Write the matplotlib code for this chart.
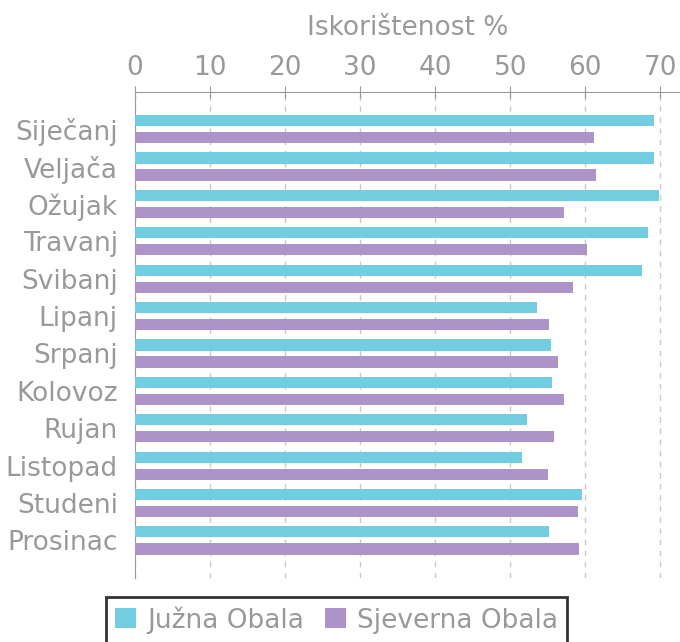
import matplotlib.pyplot as plt
import numpy as np

# data
months = ['Siječanj', 'Veljača', 'Ožujak', 'Travanj', 'Svibanj', 'Lipanj',
          'Srpanj', 'Kolovoz', 'Rujan', 'Listopad', 'Studeni', 'Prosinac']
juzna = [69.1, 69.2, 69.8, 68.4, 67.5, 53.5, 55.4, 55.6, 52.2, 51.6, 59.6, 55.1]
sjeverna = [61.2, 61.4, 57.1, 60.2, 58.3, 55.2, 56.3, 57.2, 55.8, 55.0, 59.0, 59.1]

gray = '#999999'

fig = plt.figure(figsize=(6.8, 6.42), dpi=100)
ax = fig.add_axes([0.198, 0.1, 0.802, 0.757])

y = np.arange(len(months))
ax.barh(y - 0.228, juzna, height=0.3, color='#72cde0', label='Južna Obala', zorder=3)
ax.barh(y + 0.228, sjeverna, height=0.3, color='#ac94c8', label='Sjeverna Obala', zorder=3)

ax.set_xlim(0, 72.6)
ax.set_ylim(12.0, -1.0)
ax.set_yticks(y)
ax.set_yticklabels(months)
ax.set_xticks(range(0, 80, 10))

ax.xaxis.tick_top()
ax.xaxis.set_label_position('top')
ax.set_xlabel('Iskorištenost %', color=gray, fontsize=19, labelpad=14)

ax.tick_params(axis='x', colors=gray, labelsize=19, direction='inout', length=8, pad=4)
ax.tick_params(axis='y', colors=gray, labelsize=19, length=0, pad=12)
for lab in ax.get_xticklabels() + ax.get_yticklabels():
    lab.set_color(gray)

for s in ['right', 'bottom']:
    ax.spines[s].set_visible(False)
for s in ['top', 'left']:
    ax.spines[s].set_color(gray)

ax.grid(axis='x', linestyle=(0, (4, 4)), color='#c8c8c8', linewidth=1, zorder=0)

leg = ax.legend(loc='upper center', bbox_to_anchor=(0.37, -0.012), ncol=2,
                fontsize=19, frameon=True, fancybox=False, handlelength=0.8,
                handleheight=0.8, handletextpad=0.4, columnspacing=0.8,
                borderpad=0.35)
leg.get_frame().set_edgecolor('black')
leg.get_frame().set_linewidth(2)
for t in leg.get_texts():
    t.set_color(gray)

fig.savefig('out.png', dpi=100)
